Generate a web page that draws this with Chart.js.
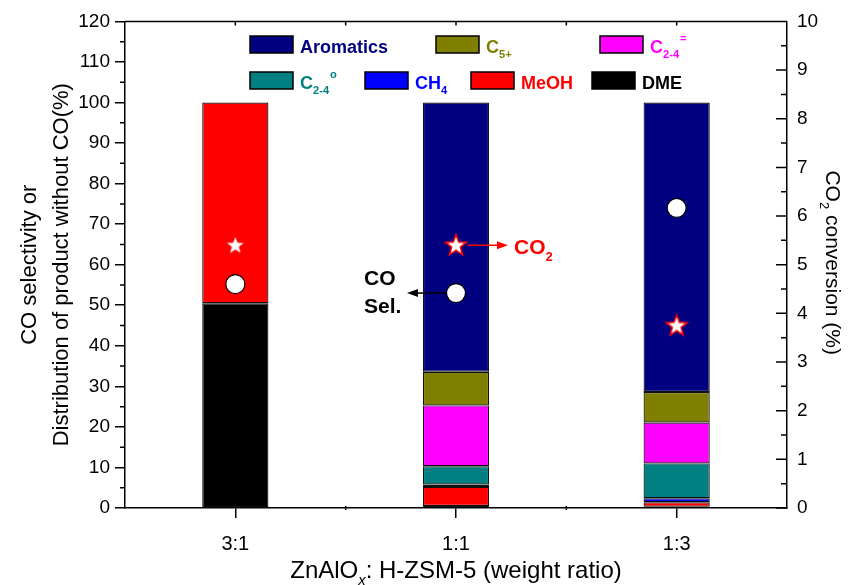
<!DOCTYPE html>
<html>
<head>
<meta charset="utf-8">
<script src="https://cdn.jsdelivr.net/npm/chart.js@4.4.0/dist/chart.umd.min.js"></script>
<style>
body { margin: 0; background: #fff; }
#wrap { width: 859px; height: 585px; }
</style>
</head>
<body>
<div id="wrap"><canvas id="myChart"></canvas></div>
<script>
// ZnAlOx : H-ZSM-5 weight ratio
const ratios = ['3:1', '1:1', '1:3'];

// product distribution without CO (%), stacked bottom -> top
const dme = [50.5, 0.5, 0.3];
const meoh = [49.5, 4.7, 1.1];
const ch4 = [null, 0.6, 1.0];
const c24Paraffin = [null, 4.5, 8.6];
const c24Olefin = [null, 15.0, 10.1];
const c5Plus = [null, 8.3, 7.5];
const aromatics = [null, 66.4, 71.4];

// markers
const coSelectivity = [55.2, 53.0, 74.0]; // left axis
const co2Conversion = [5.4, 5.4, 3.75];   // right axis

const FONT = "'Liberation Sans', Arial, sans-serif";
Chart.defaults.font.family = FONT;
Chart.defaults.color = '#000';

function makeStar() {
    const c = document.createElement('canvas');
    c.width = 26; c.height = 26;
    const g = c.getContext('2d');
    g.beginPath();
    for (let i = 0; i < 10; i++) {
        const r = i % 2 ? 4.6 : 11;
        const a = -Math.PI / 2 + i * Math.PI / 5;
        g.lineTo(13 + r * Math.cos(a), 13.5 + r * Math.sin(a));
    }
    g.closePath();
    g.fillStyle = '#fff';
    g.fill();
    g.strokeStyle = '#ff0000';
    g.lineWidth = 1.6;
    g.stroke();
    return c;
}
const star = makeStar();

function bar(label, data, color) {
    return {
        label: label, data: data, backgroundColor: color,
        borderColor: '#111', borderWidth: 1.2, borderSkipped: false,
        stack: 'prod', order: 1, yAxisID: 'y',
        categoryPercentage: 1, barPercentage: 0.3
    };
}

// draw text made of parts, some of them sub / superscript
function richText(ctx, parts, x, y, size, bold, color, align) {
    const fnt = (p, s) => (p.italic ? 'italic ' : '') + (bold ? 'bold ' : '') + s + 'px ' + FONT;
    let w = 0;
    for (const p of parts) {
        ctx.font = fnt(p, p.sub || p.sup ? size * 0.62 : size);
        p.w = ctx.measureText(p.t).width + (p.dx || 0);
        w += p.w;
    }
    let cx = align === 'center' ? x - w / 2 : x;
    ctx.fillStyle = color;
    ctx.textAlign = 'left';
    ctx.textBaseline = 'alphabetic';
    for (const p of parts) {
        ctx.font = fnt(p, p.sub || p.sup ? size * 0.62 : size);
        let dy = 0;
        if (p.sub) dy = size * 0.3;
        if (p.sup) dy = -size * 0.62;
        ctx.fillText(p.t, cx + (p.dx || 0), y + dy);
        cx += p.w;
    }
}

function arrow(ctx, x1, y1, x2, y2, color) {
    const dir = Math.sign(x2 - x1);
    ctx.strokeStyle = color;
    ctx.fillStyle = color;
    ctx.lineWidth = 1.5;
    ctx.beginPath();
    ctx.moveTo(x1, y1);
    ctx.lineTo(x2 - dir * 8, y2);
    ctx.stroke();
    ctx.beginPath();
    ctx.moveTo(x2, y2);
    ctx.lineTo(x2 - dir * 11, y2 - 4);
    ctx.lineTo(x2 - dir * 11, y2 + 4);
    ctx.closePath();
    ctx.fill();
}

const legendItems = [
    { parts: [{ t: 'Aromatics' }], color: '#000080', text: '#000080', x: 250, row: 0 },
    { parts: [{ t: 'C' }, { t: '5+', sub: true }], color: '#808000', text: '#808000', x: 436, row: 0 },
    { parts: [{ t: 'C' }, { t: '2-4', sub: true }, { t: '=', sup: true, dx: 1 }], color: '#ff00ff', text: '#ff00ff', x: 600, row: 0 },
    { parts: [{ t: 'C' }, { t: '2-4', sub: true }, { t: 'o', sup: true, dx: 1 }], color: '#008080', text: '#008080', x: 250, row: 1 },
    { parts: [{ t: 'CH' }, { t: '4', sub: true }], color: '#0000ff', text: '#0000ff', x: 365, row: 1 },
    { parts: [{ t: 'MeOH' }], color: '#ff0000', text: '#ff0000', x: 471, row: 1 },
    { parts: [{ t: 'DME' }], color: '#000000', text: '#000000', x: 592, row: 1 }
];

const decor = {
    id: 'decor',
    afterDraw(chart) {
        const ctx = chart.ctx;
        const a = chart.chartArea;
        const y2 = chart.scales.y2;
        const yl = chart.scales.y;
        const xs = chart.scales.x;
        ctx.save();
        ctx.strokeStyle = '#000';
        ctx.lineWidth = 1.5;
        ctx.beginPath();
        // top frame
        ctx.moveTo(a.left, a.top);
        ctx.lineTo(a.right, a.top);
        // right axis ticks (inward)
        for (let v = 0; v <= 10; v += 0.5) {
            const py = y2.getPixelForValue(v);
            const len = Number.isInteger(v) ? 11 : 6;
            ctx.moveTo(a.right, py);
            ctx.lineTo(a.right - len, py);
        }
        // left minor ticks (outward)
        for (let v = 5; v < 120; v += 10) {
            const py = yl.getPixelForValue(v);
            ctx.moveTo(a.left, py);
            ctx.lineTo(a.left - 5, py);
        }
        // top ticks and bottom minor ticks
        for (let i = 0; i < ratios.length; i++) {
            const px = xs.getPixelForValue(i);
            ctx.moveTo(px, a.top);
            ctx.lineTo(px, a.top + 4);
        }
        for (let i = 0; i < ratios.length - 1; i++) {
            const px = (xs.getPixelForValue(i) + xs.getPixelForValue(i + 1)) / 2;
            ctx.moveTo(px, a.top);
            ctx.lineTo(px, a.top + 4);
            ctx.moveTo(px, a.bottom - 2);
            ctx.lineTo(px, a.bottom + 2);
        }
        ctx.stroke();

        // legend
        for (const it of legendItems) {
            const top = it.row === 0 ? 36 : 72;
            ctx.fillStyle = it.color;
            ctx.fillRect(it.x, top, 43, 17);
            ctx.lineWidth = 1.5;
            ctx.strokeStyle = '#000';
            ctx.strokeRect(it.x, top, 43, 17);
            richText(ctx, it.parts, it.x + 50, top + 17, 18, true, it.text, 'left');
        }

        // annotations at 1:1
        const cx = xs.getPixelForValue(1);
        const sy = y2.getPixelForValue(co2Conversion[1]);
        arrow(ctx, cx + 12, sy, cx + 52, sy, '#ff0000');
        richText(ctx, [{ t: 'CO' }, { t: '2', sub: true }], cx + 58, sy + 9, 21, true, '#ff0000', 'left');
        const cy = yl.getPixelForValue(coSelectivity[1]);
        arrow(ctx, cx - 10, cy, cx - 49, cy, '#000');
        richText(ctx, [{ t: 'CO' }], cx - 92, cy - 8, 21, true, '#000', 'left');
        richText(ctx, [{ t: 'Sel.' }], cx - 92, cy + 20, 21, true, '#000', 'left');

        // axis titles
        const midY = (a.top + a.bottom) / 2;
        ctx.save();
        ctx.translate(36, midY);
        ctx.rotate(-Math.PI / 2);
        richText(ctx, [{ t: 'CO selectivity or' }], 0, 0, 22, false, '#000', 'center');
        richText(ctx, [{ t: 'Distribution of product without CO(%)' }], 0, 32, 22, false, '#000', 'center');
        ctx.restore();
        ctx.save();
        ctx.translate(826, midY - 2);
        ctx.rotate(Math.PI / 2);
        richText(ctx, [{ t: 'CO' }, { t: '2', sub: true }, { t: ' conversion (%)' }], 0, 0, 21, false, '#000', 'center');
        ctx.restore();
        richText(ctx, [{ t: 'ZnAlO' }, { t: 'x', sub: true, italic: true }, { t: ': H-ZSM-5 (weight ratio)' }],
            (a.left + a.right) / 2, 578, 24, false, '#000', 'center');
        ctx.restore();
    }
};

const ctx = document.getElementById('myChart').getContext('2d');

new Chart(ctx, { //eslint-disable-line
    type: 'bar',
    data: {
        labels: ratios,
        datasets: [
            bar('DME', dme, '#000000'),
            bar('MeOH', meoh, '#ff0000'),
            bar('CH4', ch4, '#0000ff'),
            bar('C2-4 paraffin', c24Paraffin, '#008080'),
            bar('C2-4 olefin', c24Olefin, '#ff00ff'),
            bar('C5+', c5Plus, '#808000'),
            bar('Aromatics', aromatics, '#000080'),
            {
                type: 'line', label: 'CO Sel.', data: coSelectivity, yAxisID: 'y', stack: 'sel',
                showLine: false, order: 0, pointStyle: 'circle', pointRadius: 9.5,
                pointBackgroundColor: '#fff', pointBorderColor: '#000', pointBorderWidth: 1.2
            },
            {
                type: 'line', label: 'CO2 conversion', data: co2Conversion, yAxisID: 'y2', stack: 'conv',
                showLine: false, order: 0, pointStyle: star, pointRadius: 11
            }
        ]
    },
    options: {
        responsive: true,
        maintainAspectRatio: false,
        animation: false,
        layout: { padding: { top: 21, left: 0, right: 0, bottom: 0 } },
        plugins: { legend: { display: false }, tooltip: { enabled: false } },
        scales: {
            x: {
                stacked: true,
                offset: true,
                grid: { display: true, drawOnChartArea: false, offset: false, tickLength: 10, color: '#000', lineWidth: 1.5 },
                border: { color: '#000', width: 1.5 },
                ticks: { color: '#000', font: { size: 20 }, padding: 14 },
                afterFit(s) { s.height = 77; }
            },
            y: {
                stacked: true,
                min: 0, max: 120,
                grid: { drawOnChartArea: false, tickLength: 10, color: '#000', lineWidth: 1.5 },
                border: { color: '#000', width: 1.5 },
                ticks: { stepSize: 10, color: '#000', font: { size: 19 }, padding: 5 },
                afterFit(s) { s.width = 125; }
            },
            y2: {
                position: 'right',
                min: 0, max: 10,
                grid: { display: false, drawTicks: false },
                border: { color: '#000', width: 1.5 },
                ticks: { stepSize: 1, color: '#000', font: { size: 19 }, padding: 10 },
                afterFit(s) { s.width = 72; }
            }
        }
    },
    plugins: [decor]
});
</script>
</body>
</html>
